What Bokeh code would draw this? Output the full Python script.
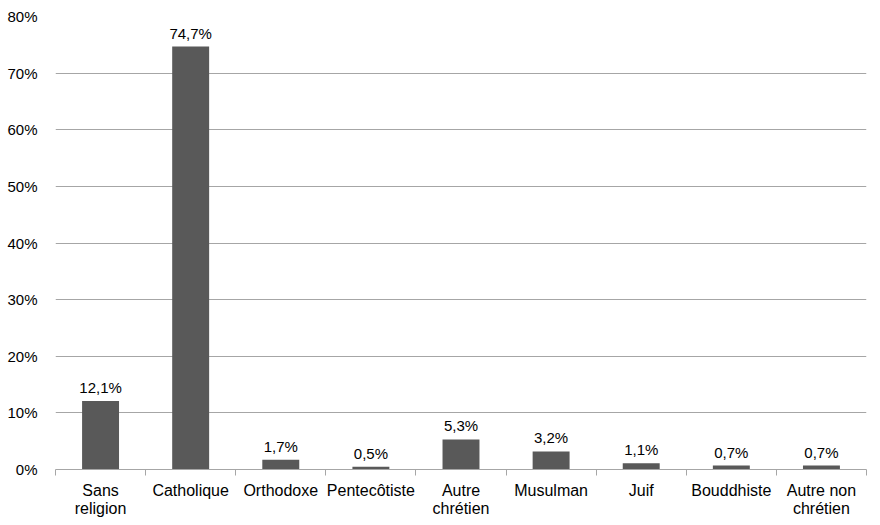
from bokeh.plotting import figure
from bokeh.models import FixedTicker, PrintfTickFormatter, ColumnDataSource, Range1d
from bokeh.core.properties import value
from bokeh.embed import file_html
from bokeh.resources import INLINE

categories = ["Sans\nreligion", "Catholique", "Orthodoxe", "Pentecôtiste", "Autre\nchrétien",
              "Musulman", "Juif", "Bouddhiste", "Autre non\nchrétien"]
values = [12.1, 74.7, 1.7, 0.5, 5.3, 3.2, 1.1, 0.7, 0.7]
labels = ["12,1%", "74,7%", "1,7%", "0,5%", "5,3%", "3,2%", "1,1%", "0,7%", "0,7%"]
y_ticks = [0, 10, 20, 30, 40, 50, 60, 70, 80]

FONT = "Liberation Sans"
n = len(categories)
centers = [i + 0.5 for i in range(n)]

src = ColumnDataSource(dict(x=centers, top=values, label=labels))

p = figure(frame_width=811, frame_height=453, output_backend="svg", toolbar_location=None,
           x_range=Range1d(0, n), y_range=Range1d(0, 80),
           min_border_left=55, min_border_right=6, min_border_top=16, min_border_bottom=20)
p.outline_line_color = None
p.background_fill_color = "white"
p.border_fill_color = "white"

p.vbar(x="x", top="top", width=0.41, source=src, fill_color="#595959", line_color=None)
p.text(x="x", y="top", text="label", source=src, text_align="center", text_baseline="bottom",
       y_offset=-5, text_font=value(FONT), text_font_size="15px", text_color="#000000")

# x axis
p.xaxis.ticker = FixedTicker(ticks=centers, minor_ticks=list(range(n + 1)))
p.xaxis.major_label_overrides = {c: lab for c, lab in zip(centers, categories)}
p.xaxis.major_tick_line_color = None
p.xaxis.major_tick_out = 0
p.xaxis.major_tick_in = 0
p.xaxis.minor_tick_line_color = "#a6a6a6"
p.xaxis.minor_tick_in = 0
p.xaxis.minor_tick_out = 6
p.xaxis.axis_line_color = "#a6a6a6"
p.xaxis.major_label_text_font = FONT
p.xaxis.major_label_text_font_size = "16px"
p.xaxis.major_label_text_color = "#000000"
p.xaxis.major_label_standoff = 6
p.xaxis.major_label_text_line_height = 1.07
p.xgrid.grid_line_color = None

# y axis
p.yaxis.ticker = FixedTicker(ticks=y_ticks)
p.yaxis.formatter = PrintfTickFormatter(format="%d%%")
p.yaxis.axis_line_color = None
p.yaxis.major_tick_line_color = None
p.yaxis.major_tick_out = 0
p.yaxis.major_tick_in = 0
p.yaxis.minor_tick_line_color = None
p.yaxis.major_label_text_font = FONT
p.yaxis.major_label_text_font_size = "15px"
p.yaxis.major_label_text_color = "#000000"
p.yaxis.major_label_standoff = 18
p.ygrid.grid_line_color = "#a6a6a6"
p.ygrid.ticker = FixedTicker(ticks=y_ticks[1:])

open("out.html", "w").write(file_html(p, INLINE))
